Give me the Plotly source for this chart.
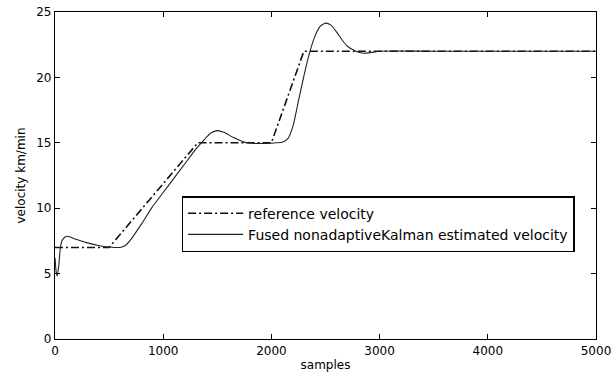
import plotly.graph_objects as go

# Reference velocity (piecewise)
ref_samples = [0, 500, 1320, 2000, 2300, 5000]
ref_velocity = [7, 7, 15, 15, 22, 22]

# Fused nonadaptive Kalman estimate
est_samples = [0, 10, 20, 35, 50, 70, 110, 200, 300, 400, 500, 600, 650, 700, 800, 900,
               1000, 1100, 1200, 1300, 1380, 1440, 1500, 1560, 1650, 1750, 1850, 1950,
               2050, 2100, 2150, 2200, 2250, 2300, 2350, 2400, 2450, 2500, 2550, 2600,
               2650, 2700, 2780, 2850, 2920, 3000, 3500, 4000, 4500, 5000]
est_velocity = [6.2, 5.2, 4.8, 5.6, 7.0, 7.6, 7.85, 7.6, 7.35, 7.15, 7.03, 7.0, 7.15, 7.6, 8.8, 10.1,
                11.2, 12.3, 13.4, 14.5, 15.25, 15.75, 15.93, 15.8, 15.4, 15.05, 14.95, 14.95,
                15.0, 15.05, 15.3, 16.3, 18.2, 20.1, 21.8, 23.1, 23.9, 24.15, 24.0, 23.5,
                22.9, 22.4, 22.0, 21.85, 21.9, 22.0, 22.0, 22.0, 22.0, 22.0]

x_ticks = [0, 1000, 2000, 3000, 4000, 5000]
y_ticks = [0, 5, 10, 15, 20, 25]

FONT = "DejaVu Sans, Liberation Sans, Arial"

fig = go.Figure()
fig.add_trace(go.Scatter(x=ref_samples, y=ref_velocity, mode="lines",
                         name="reference velocity",
                         line=dict(color="#111111", width=1.6, dash="8px,3px,2px,3px")))
fig.add_trace(go.Scatter(x=est_samples, y=est_velocity, mode="lines",
                         name="Fused nonadaptiveKalman estimated velocity",
                         line=dict(color="#222222", width=1.1, shape="spline", smoothing=0.6)))

axis_common = dict(showgrid=False, zeroline=False, showline=True, linecolor="black",
                   linewidth=1.2, mirror="allticks", ticks="inside", ticklen=5,
                   tickcolor="black", automargin=False,
                   tickfont=dict(family=FONT, size=12, color="black"))

fig.update_layout(
    width=613, height=375,
    margin=dict(l=55, r=17, t=12, b=36, autoexpand=False),
    paper_bgcolor="white", plot_bgcolor="white",
    showlegend=True,
    legend=dict(x=0.234, y=0.437, xanchor="left", yanchor="top",
                bgcolor="white", bordercolor="black", borderwidth=1.5,
                font=dict(family=FONT, size=14, color="black"),
                tracegroupgap=0, itemwidth=55),
    xaxis=dict(range=[0, 5000], tickvals=x_ticks,
               title=dict(text="samples", standoff=4,
                          font=dict(family=FONT, size=12, color="black")),
               **axis_common),
    yaxis=dict(range=[0, 25], tickvals=y_ticks,
               title=dict(text="velocity km/min", standoff=8,
                          font=dict(family=FONT, size=12, color="black")),
               **axis_common),
)

fig.write_html("out.html")
